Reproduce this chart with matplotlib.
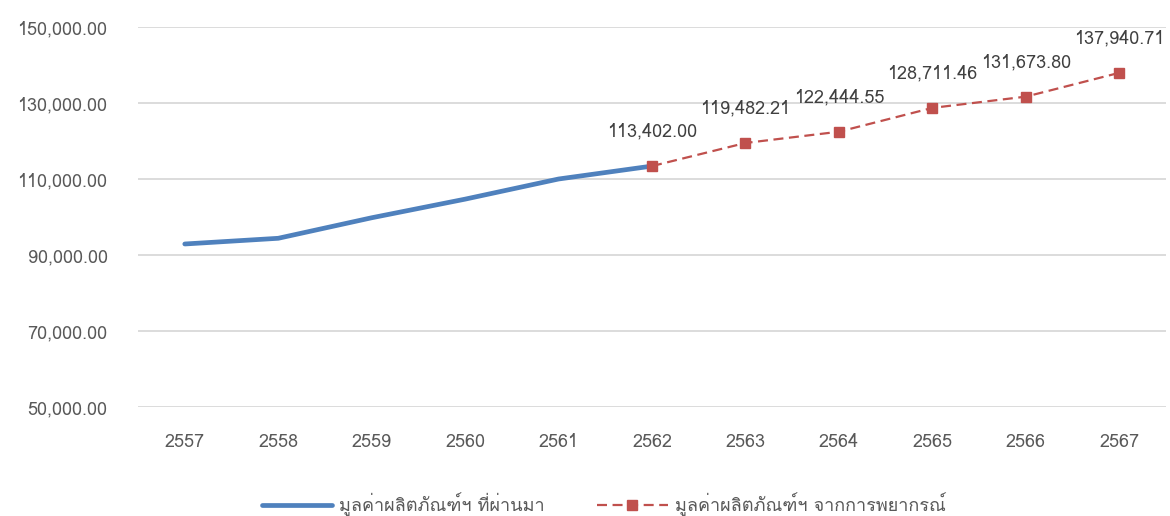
import matplotlib
matplotlib.use("Agg")
import matplotlib.pyplot as plt
from matplotlib import font_manager
from matplotlib.ft2font import FT2Font

years = ["2557", "2558", "2559", "2560", "2561", "2562", "2563", "2564", "2565", "2566", "2567"]
past_values = [92900, 94400, 99800, 104700, 110000, 113402.00]
forecast_values = [113402.00, 119482.21, 122444.55, 128711.46, 131673.80, 137940.71]
past_label = "มูลค่าผลิตภัณฑ์ฯ ที่ผ่านมา"
forecast_label = "มูลค่าผลิตภัณฑ์ฯ จากการพยากรณ์"
y_ticks = [50000, 70000, 90000, 110000, 130000, 150000]


def thai_family():
    # find any installed font that has Thai glyphs
    for f in font_manager.fontManager.ttflist:
        try:
            if 0x0E21 in FT2Font(f.fname).get_charmap():
                return f.name
        except Exception:
            continue
    return None


fam = thai_family()
plt.rcParams["font.family"] = [fam, "DejaVu Sans"] if fam else ["DejaVu Sans"]

fig = plt.figure(figsize=(11.7, 5.16), dpi=100)
ax = fig.add_axes([0.118, 0.2112, 0.8786, 0.7365])

x_past = list(range(len(past_values)))
x_fc = list(range(len(past_values) - 1, len(years)))
ax.plot(x_past, past_values, color="#4F81BD", lw=3.4, solid_capstyle="round",
        label=past_label, zorder=3)
ax.plot(x_fc, forecast_values, color="#C0504D", lw=1.6, ls=(0, (4.5, 2.5)), marker="s",
        ms=6.5, label=forecast_label, zorder=4)

for xi, v in zip(x_fc, forecast_values):
    ax.annotate(f"{v:,.2f}", (xi, v), xytext=(0, 25), textcoords="offset points",
                ha="center", va="center", fontsize=13, color="#404040")

ax.set_xlim(-0.5, len(years) - 0.5)
ax.set_ylim(50000, 150000)
ax.set_xticks(range(len(years)))
ax.set_xticklabels(years)
ax.set_yticks(y_ticks)
ax.set_yticklabels([f"{t:,.2f}" for t in y_ticks])
ax.tick_params(length=0, labelsize=13, labelcolor="#595959")
ax.tick_params(axis="x", pad=19)
ax.tick_params(axis="y", pad=22)
ax.grid(axis="y", color="#D9D9D9", lw=1.3)
ax.set_axisbelow(True)
for s in ax.spines.values():
    s.set_visible(False)

fig.legend(*ax.get_legend_handles_labels(), loc="center", bbox_to_anchor=(0.516, 0.022),
           ncol=2, frameon=False, fontsize=13, labelcolor="#595959", handlelength=3.9,
           columnspacing=2.9, handletextpad=0.4)

fig.savefig("out.png", dpi=100)
